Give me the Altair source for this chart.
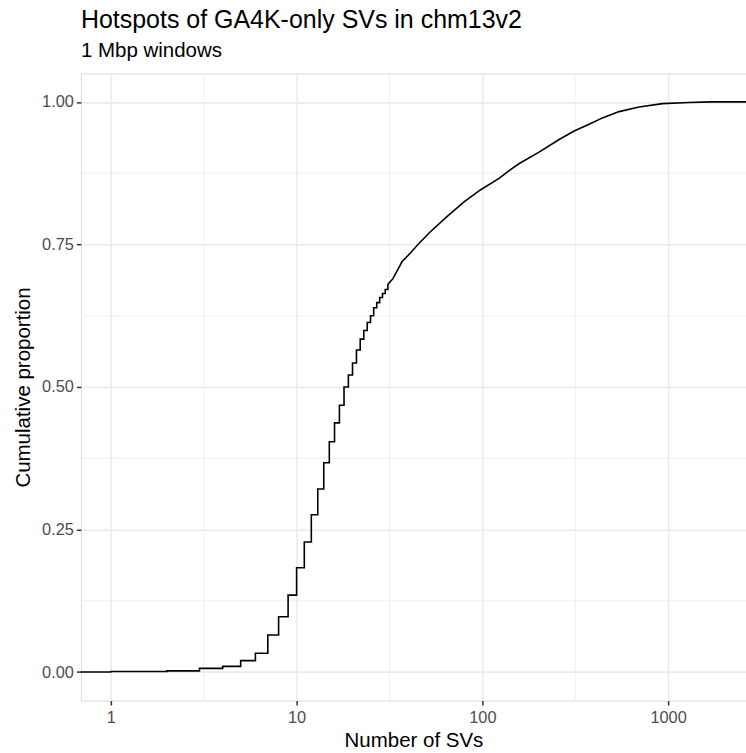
import altair as alt
import pandas as pd

# ECDF of number of SVs per 1 Mbp window
step_counts = [0.1, 1, 2, 3, 4, 5, 6, 7, 8, 9, 10, 11, 12, 13, 14, 15, 16, 17, 18, 19, 20,
               21, 22, 23, 24, 25, 26, 27, 28, 29, 30, 31]
step_ecdf = [0.0, 0.001, 0.002, 0.0065, 0.010, 0.020, 0.033, 0.065, 0.097, 0.135, 0.183,
             0.228, 0.276, 0.321, 0.367, 0.404, 0.437, 0.468, 0.500, 0.521, 0.542,
             0.565, 0.584, 0.599, 0.613, 0.625, 0.639, 0.648, 0.657, 0.664, 0.671, 0.680]

smooth_counts = [31, 33, 37, 41, 45, 52, 64, 80, 98, 123, 143, 158, 202, 259, 312, 376, 443,
                 545, 698, 932, 1300, 1700, 100000]
smooth_ecdf = [0.680, 0.690, 0.720, 0.735, 0.750, 0.771, 0.798, 0.825, 0.846, 0.866, 0.882,
               0.892, 0.912, 0.934, 0.949, 0.961, 0.972, 0.983, 0.991, 0.997, 0.999, 1.0, 1.0]

x_ticks = [1, 10, 100, 1000]
x_minor = [3.1623, 31.623, 316.23]
y_ticks = [0, 0.25, 0.5, 0.75, 1.0]
y_minor = [0.125, 0.375, 0.625, 0.875]

step_df = pd.DataFrame({"n": step_counts, "p": step_ecdf})
smooth_df = pd.DataFrame({"n": smooth_counts, "p": smooth_ecdf})
xminor_df = pd.DataFrame({"n": x_minor})
yminor_df = pd.DataFrame({"p": y_minor})

FONT = "Liberation Sans"
GRID = "#EBEBEB"

x_scale = alt.Scale(type="log", domain=[10 ** (-30 / 186), 10 ** (636 / 186)], nice=False)
y_scale = alt.Scale(domain=[-0.05, 1.05], nice=False, zero=False)

x_axis = alt.Axis(values=x_ticks, format="d", title="Number of SVs", grid=True,
                  gridColor=GRID, gridWidth=1.6, domain=False,
                  tickColor="#333333", tickWidth=1.5, tickSize=4.5,
                  labelFont=FONT, labelFontSize=16.4, labelColor="#4D4D4D", labelPadding=4,
                  titleFont=FONT, titleFontSize=20.5, titleFontWeight="normal",
                  titleColor="black", titlePadding=5, labelFlush=False)
y_axis = alt.Axis(values=y_ticks, format=".2f", title="Cumulative proportion", grid=True,
                  gridColor=GRID, gridWidth=1.6, domain=False,
                  tickColor="#333333", tickWidth=1.5, tickSize=4.5,
                  labelFont=FONT, labelFontSize=16.4, labelColor="#4D4D4D", labelPadding=3,
                  titleFont=FONT, titleFontSize=20.5, titleFontWeight="normal",
                  titleColor="black", titlePadding=8)

xminor = alt.Chart(xminor_df).mark_rule(color=GRID, strokeWidth=0.8).encode(
    x=alt.X("n:Q", scale=x_scale, axis=x_axis)
)
yminor = alt.Chart(yminor_df).mark_rule(color=GRID, strokeWidth=0.8).encode(
    y=alt.Y("p:Q", scale=y_scale, axis=y_axis)
)

steps = alt.Chart(step_df).mark_line(
    interpolate="step-after", color="black", strokeWidth=1.6, clip=True
).encode(
    x=alt.X("n:Q", scale=x_scale, axis=x_axis),
    y=alt.Y("p:Q", scale=y_scale, axis=y_axis),
)
smooth = alt.Chart(smooth_df).mark_line(
    interpolate="linear", color="black", strokeWidth=1.6, clip=True
).encode(
    x=alt.X("n:Q", scale=x_scale, axis=x_axis),
    y=alt.Y("p:Q", scale=y_scale, axis=y_axis),
)

chart = alt.layer(xminor, yminor, steps, smooth).properties(
    width=666,
    height=628,
    title=alt.TitleParams(
        text="Hotspots of GA4K-only SVs in chm13v2",
        subtitle="1 Mbp windows",
        anchor="start",
        frame="group",
        font=FONT,
        fontSize=25,
        fontWeight="normal",
        color="black",
        subtitleFont=FONT,
        subtitleFontSize=20.5,
        subtitleColor="black",
        subtitlePadding=8,
        offset=12,
    ),
    autosize=alt.AutoSizeParams(type="none"),
    padding={"left": 81, "top": 73, "right": 0, "bottom": 52},
).configure_view(
    stroke="#333333", strokeWidth=1.5, fill="white"
).configure(background="white")

chart.save("out.html", embed_options={"renderer": "svg", "actions": False})
